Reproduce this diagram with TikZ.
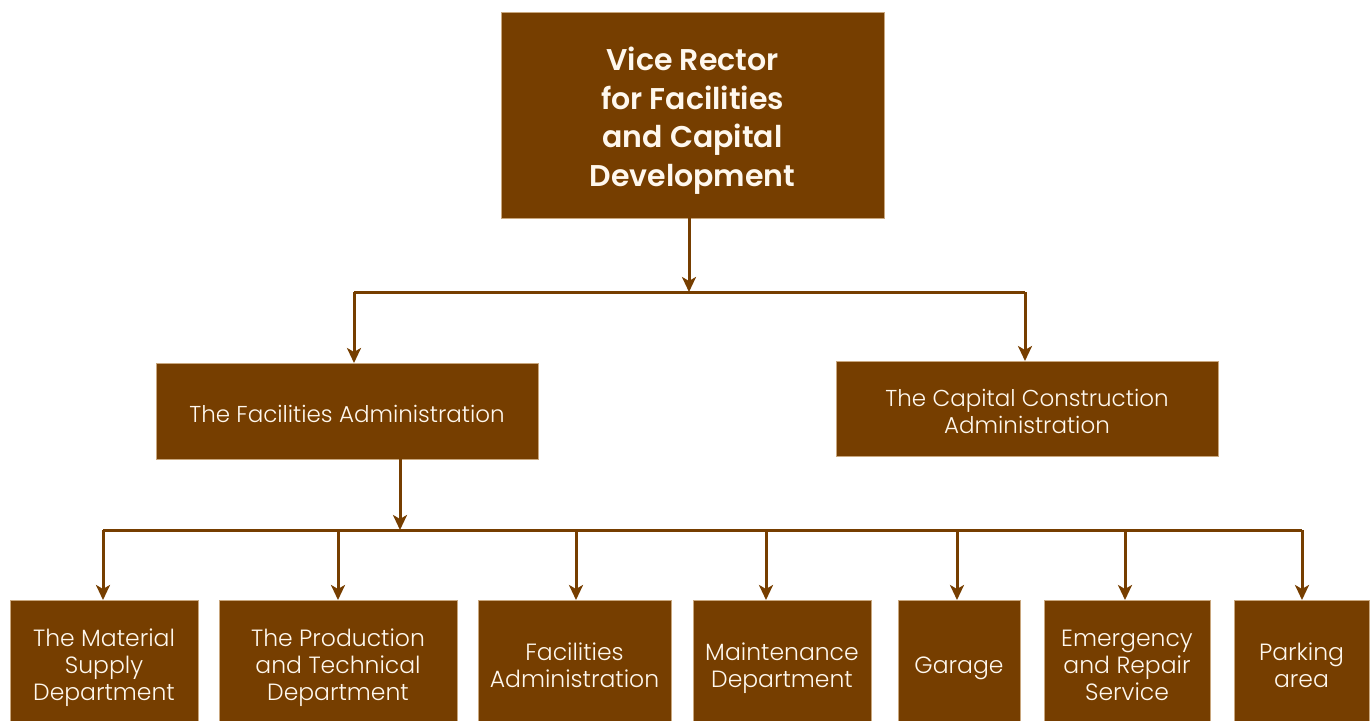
\documentclass[tikz,border=0pt]{standalone}
\usepackage{fontspec}
\setmainfont{Poppins Light}[BoldFont={Poppins SemiBold}]
\usetikzlibrary{arrows.meta}
\definecolor{brn}{HTML}{763E00}
\definecolor{edge}{HTML}{C9A77E}
\definecolor{txt}{HTML}{FFF8EE}
\newcommand{\mltxt}[2]{\raisebox{#1}[\height][\depth]{\begin{tabular}{@{}c@{}}#2\end{tabular}}}
\begin{document}
\begin{tikzpicture}[x=0.5pt,y=-0.5pt,
  box/.style={rectangle,fill=brn,draw=edge,line width=0.4pt,inner sep=0pt,outer sep=0pt,
    text=txt,align=center,font=\fontsize{11.75}{13.5}\selectfont},
  midbox/.style={box,font=\fontsize{11.5}{13.5}\selectfont},
  title/.style={box,font=\fontsize{15}{19.25}\selectfont\bfseries},
  wire/.style={draw=brn,line width=1.5pt},
  arr/.style={wire,-{Stealth[length=7.5pt,width=7pt,inset=2pt]}}]
\useasboundingbox (0,0) rectangle (1372,720);
\begin{scope}
\clip (0,0) rectangle (1372,720);
\node[title,minimum width=191.5pt,minimum height=103pt] (top) at (692.5,115)
  {\mltxt{-3pt}{Vice Rector\\for Facilities\\and Capital\\Development}};
\node[midbox,minimum width=191pt,minimum height=48pt] (fa) at (347,411)
  {\mltxt{-3pt}{The Facilities Administration}};
\node[midbox,minimum width=191pt,minimum height=47.5pt] (cc) at (1027,408.5)
  {\mltxt{-3pt}{The Capital Construction\\Administration}};
\node[box,minimum width=94pt,minimum height=65pt] (b1) at (104,665)
  {\mltxt{-1.6pt}{The Material\\Supply\\Department}};
\node[box,minimum width=119pt,minimum height=65pt] (b2) at (338,665)
  {\mltxt{-1.6pt}{The Production\\and Technical\\Department}};
\node[box,minimum width=96.5pt,minimum height=65pt] (b3) at (574.5,665)
  {\mltxt{-1.8pt}{Facilities\\Administration}};
\node[box,minimum width=89pt,minimum height=65pt] (b4) at (782,665)
  {\mltxt{-1.8pt}{Maintenance\\Department}};
\node[box,minimum width=61pt,minimum height=65pt] (b5) at (959,665)
  {\mltxt{-1.6pt}{Garage}};
\node[box,minimum width=83pt,minimum height=65pt] (b6) at (1127,665)
  {\mltxt{-1.6pt}{Emergency\\and Repair\\Service}};
\node[box,minimum width=67.5pt,minimum height=65pt] (b7) at (1301.5,665)
  {\mltxt{-1.8pt}{Parking\\area}};
\end{scope}
% level 1 bus
\coordinate (j1) at (689,292);
\coordinate (l1) at (354,292);
\coordinate (r1) at (1025,292);
\draw[arr] (top.south -| j1) -- (j1);
\draw[wire] (l1) -- (r1);
\draw[arr] (l1) -- (l1 |- fa.north);
\draw[arr] (r1) -- (r1 |- cc.north);
% level 2 bus
\coordinate (j2) at (400,530);
\coordinate (c1) at (103,530);
\coordinate (c2) at (338,530);
\coordinate (c3) at (576,530);
\coordinate (c4) at (766,530);
\coordinate (c5) at (957,530);
\coordinate (c6) at (1125,530);
\coordinate (c7) at (1302,530);
\draw[arr] (fa.south -| j2) -- (j2);
\draw[wire] (c1) -- (c7);
\foreach \i in {1,...,7} {\draw[arr] (c\i) -- (c\i |- b\i.north);}
\end{tikzpicture}
\end{document}
